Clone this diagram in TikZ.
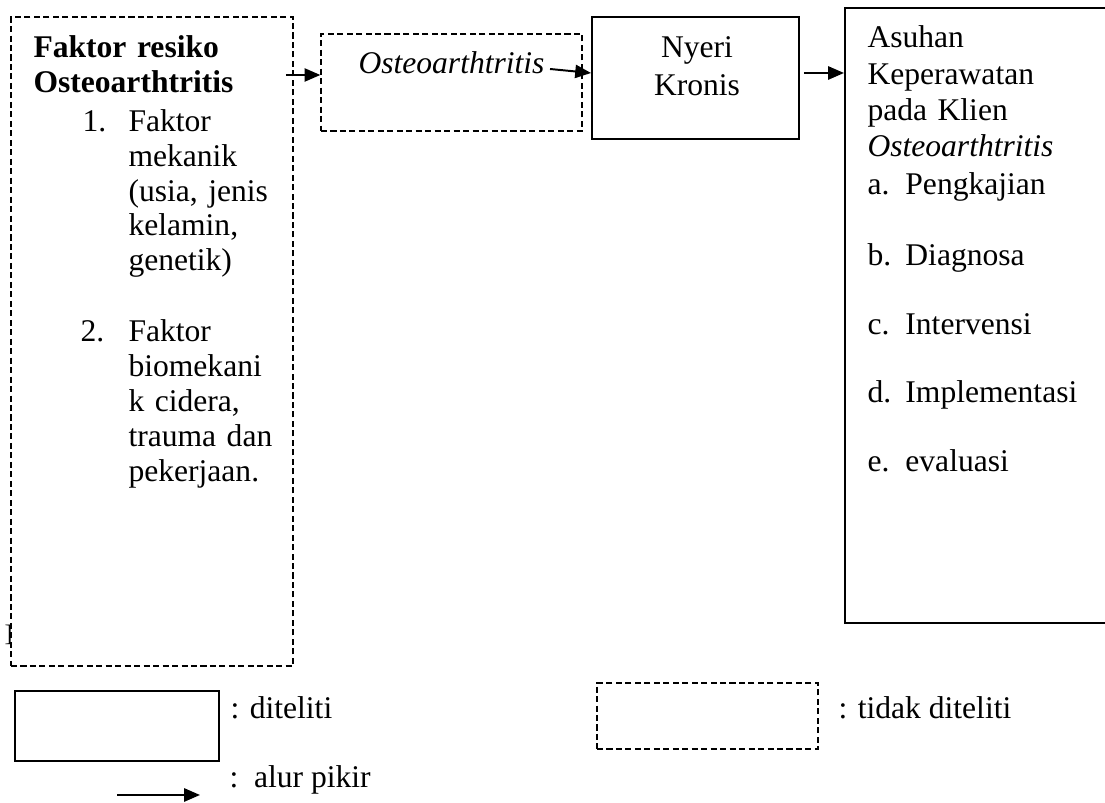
\documentclass[tikz,border=0pt]{standalone}
\usepackage{fontspec}
\setmainfont{Liberation Serif}
\usetikzlibrary{arrows.meta}
\def\pxu{0.38pt}
\tikzset{
  solidbox/.style={draw, line width=0.75pt, rectangle, inner sep=0pt},
  dashbox/.style={draw, line width=0.5pt, dash pattern=on 2.3pt off 1.3pt, rectangle, inner sep=0pt},
  arr/.style={line width=0.75pt, -{Triangle[length=6pt,width=5pt]}},
  txt/.style={inner sep=0pt, font=\fontsize{12}{13.8}\selectfont},
}
\begin{document}
\begin{tikzpicture}[x=\pxu, y=-\pxu]
\useasboundingbox (0,0) rectangle (1105,803);
\clip (0,0) rectangle (1105,803);

% boxes
\node[dashbox, minimum width=282*\pxu, minimum height=649*\pxu] (leftbox) at (152,341.5) {};
\node[dashbox, minimum width=261*\pxu, minimum height=97*\pxu] (midbox) at (451.5,82.5) {};
\node[solidbox, minimum width=207*\pxu, minimum height=122*\pxu] (nyeri) at (695.5,78) {};
\node[solidbox, minimum width=280*\pxu, minimum height=615*\pxu] (asuhanbox) at (985,315.5) {};

% left box text
\node[txt, anchor=base west, text width=240*\pxu, align=left, font=\fontsize{12}{13.3}\selectfont\bfseries] (title) at (33,58) {Faktor resiko\\Osteoarthtritis};
\node[txt, anchor=base west] (n1) at (82,132) {1.};
\node[txt, anchor=base west, text width=145*\pxu, font=\fontsize{12}{13.15}\selectfont] (i1) at (128,132) {Faktor\\ mekanik\\ \makebox[\linewidth][s]{(usia, jenis}\\ kelamin,\\ genetik)};
\node[txt, anchor=base west] (n2) at (80,342) {2.};
\node[txt, anchor=base west, text width=145*\pxu, font=\fontsize{12}{13.3}\selectfont] (i2) at (128,342) {Faktor\\ biomekani\\ \makebox[\linewidth][s]{k cidera,}\\ \makebox[\linewidth][s]{trauma dan}\\ pekerjaan.};
\node[inner sep=0pt, anchor=base east, font=\fontsize{9}{9}\selectfont] (mark) at (13,642) {]};

% middle texts
\node[txt, anchor=base west, font=\fontsize{12}{13.8}\selectfont\itshape] (osteotxt) at (358,74) {Osteoarthtritis};
\node[txt, anchor=base, text width=150*\pxu, align=center, font=\fontsize{12}{14.4}\selectfont] (nyeritxt) at (697,58) {Nyeri\\Kronis};

% right box text
\node[txt, anchor=base west, text width=220*\pxu, font=\fontsize{12}{13.8}\selectfont] (asuhtxt) at (867,48) {Asuhan\\ Keperawatan\\ \makebox[\linewidth][s]{pada Klien}\\ \textit{Osteoarthtritis}};
\node[txt, anchor=base west] (la) at (867,195) {\makebox[14.4pt][l]{a.}Pengkajian};
\node[txt, anchor=base west] (lb) at (867,266) {\makebox[14.4pt][l]{b.}Diagnosa};
\node[txt, anchor=base west] (lc) at (867,335) {\makebox[14.4pt][l]{c.}Intervensi};
\node[txt, anchor=base west] (ld) at (867,403) {\makebox[14.4pt][l]{d.}Implementasi};
\node[txt, anchor=base west] (le) at (867,472) {\makebox[14.4pt][l]{e.}evaluasi};

% connectors
\coordinate (y75) at (0,75);
\coordinate (y73) at (0,73);
\draw[arr, shorten <=-3pt] (leftbox.east |- y75) -- (midbox.west |- y75);
\draw[arr] ([shift={(5,-5)}]osteotxt.base east) -- (nyeri.west |- y73);
\draw[arr, shorten <=1.5pt] (nyeri.east |- y73) -- (asuhanbox.west |- y73);

% legend
\node[solidbox, minimum width=204*\pxu, minimum height=70*\pxu] (legsolid) at (117,726) {};
\node[txt, anchor=base west] (legsolidtxt) at (230,719) {: diteliti};
\node[dashbox, minimum width=221*\pxu, minimum height=66*\pxu] (legdash) at (707.5,716) {};
\node[txt, anchor=base west] (legdashtxt) at (838,719) {: tidak diteliti};
\coordinate (legas) at (117,795);
\coordinate (legae) at (200,795);
\draw[arr] (legas) -- (legae);
\node[txt, anchor=base west] (legarrtxt) at (229,788) {:\ \ alur pikir};
\end{tikzpicture}
\end{document}
